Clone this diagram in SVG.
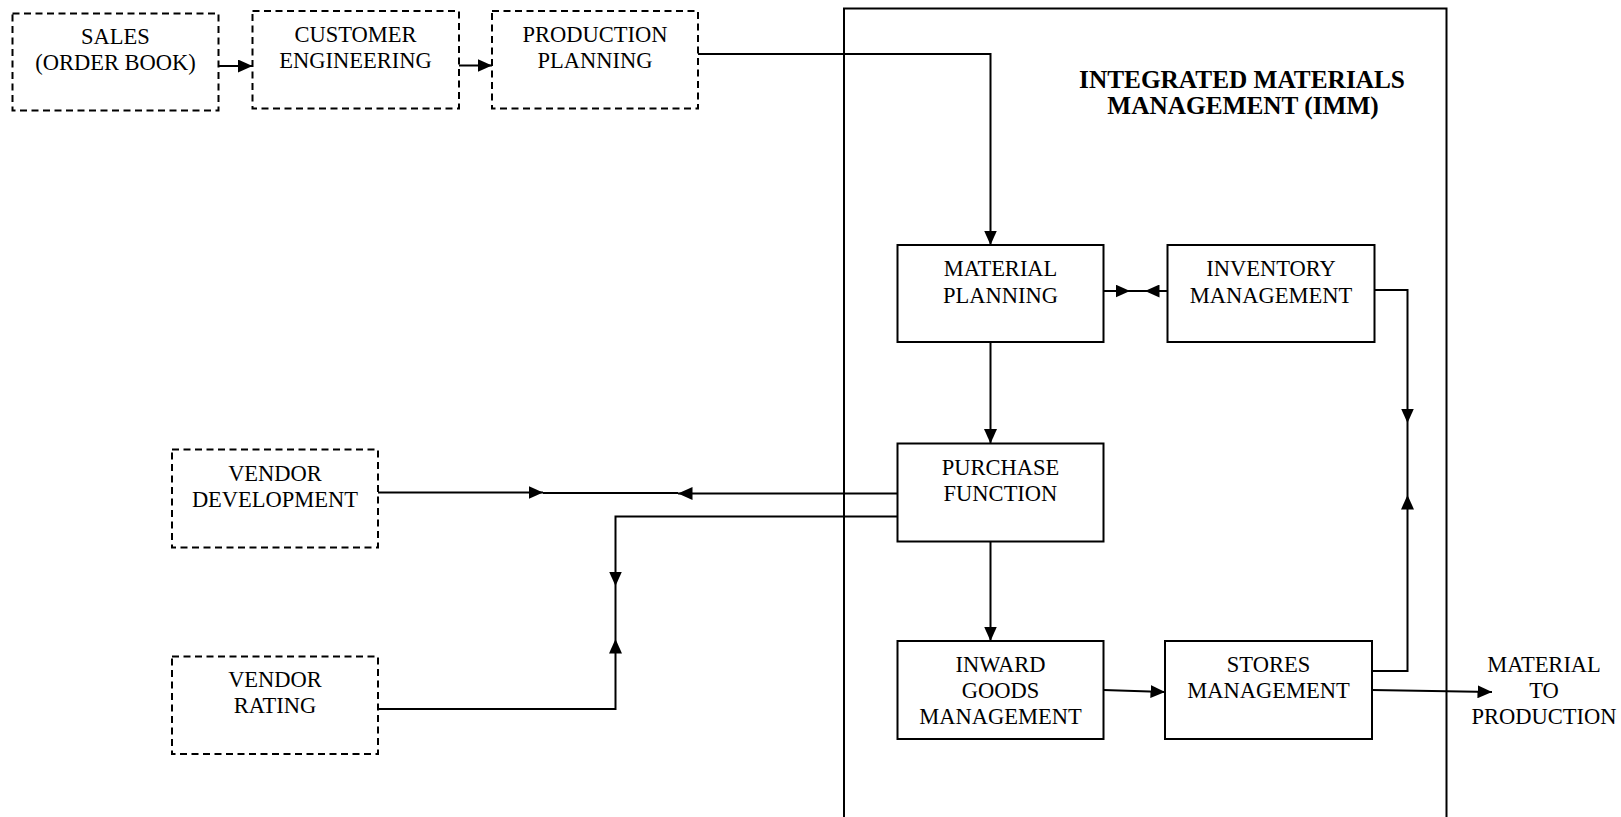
<svg xmlns="http://www.w3.org/2000/svg" width="1621" height="817" viewBox="0 0 1621 817">
<style>
  .box{fill:#fff;stroke:#000;stroke-width:2}
  .dbox{fill:#fff;stroke:#000;stroke-width:2;stroke-dasharray:7 4.5}
  .lbl{font-family:"Liberation Serif","Times New Roman",serif;font-size:22.5px;fill:#000;text-anchor:middle}
  .title{font-family:"Liberation Serif","Times New Roman",serif;font-size:25.3px;font-weight:bold;fill:#000;text-anchor:middle}
  .c{fill:none;stroke:#000;stroke-width:2}
  .ca{fill:none;stroke:#000;stroke-width:2;marker-end:url(#ah)}
</style>
<defs>
  <marker id="ah" markerUnits="userSpaceOnUse" markerWidth="15" markerHeight="13" refX="14.5" refY="6.5" orient="auto">
    <path d="M0,0 L14.5,6.5 L0,13 z" fill="#000"/>
  </marker>
</defs>
<rect width="1621" height="817" fill="#fff"/>

<g id="imm">
  <path d="M844,830 V8.5 H1446.5 V830" fill="none" stroke="#000" stroke-width="2"/>
  <text class="title" x="1242" y="87.5">INTEGRATED MATERIALS</text>
  <text class="title" x="1243" y="113.5">MANAGEMENT (IMM)</text>
</g>

<g id="connectors">
  <path class="ca" d="M218.5,66 H252.5"/>
  <path class="ca" d="M459,65.5 H492"/>
  <path class="ca" d="M698,54 H990.5 V245"/>
  <path class="ca" d="M1103.5,291 H1130"/>
  <path class="ca" d="M1167.5,291 H1145"/>
  <path class="c" d="M1130,291 H1145"/>
  <path class="ca" d="M990.5,342 V443.5"/>
  <path class="ca" d="M990.5,541.5 V641"/>
  <path class="ca" d="M1103.5,690 L1165,692"/>
  <path class="ca" d="M1372,690 L1492,692"/>
  <path class="ca" d="M1374,290 H1407.5 V423"/>
  <path class="ca" d="M1372,671 H1407.5 V495"/>
  <path class="c" d="M1407.5,423 V495"/>
  <path class="ca" d="M378,492.5 H543"/>
  <path class="ca" d="M897,493.5 H678"/>
  <path class="c" d="M543,493 H678"/>
  <path class="ca" d="M897,516.5 H615.5 V586"/>
  <path class="ca" d="M378,709 H615.5 V639"/>
  <path class="c" d="M615.5,586 V639"/>
</g>

<g id="sales">
  <rect class="dbox" x="12.5" y="13.5" width="206" height="97"/>
  <text class="lbl" x="115.5" y="43.5">SALES</text>
  <text class="lbl" x="115.5" y="70">(ORDER BOOK)</text>
</g>
<g id="customer-engineering">
  <rect class="dbox" x="252.5" y="11" width="206.5" height="97.5"/>
  <text class="lbl" x="355.5" y="41.5">CUSTOMER</text>
  <text class="lbl" x="355.5" y="68">ENGINEERING</text>
</g>
<g id="production-planning">
  <rect class="dbox" x="492" y="11" width="206" height="97.5"/>
  <text class="lbl" x="595" y="41.5">PRODUCTION</text>
  <text class="lbl" x="595" y="68">PLANNING</text>
</g>

<g id="material-planning">
  <rect class="box" x="897.5" y="245" width="206" height="97"/>
  <text class="lbl" x="1000.5" y="276">MATERIAL</text>
  <text class="lbl" x="1000.5" y="302.5">PLANNING</text>
</g>
<g id="inventory-management">
  <rect class="box" x="1167.5" y="245" width="207" height="97"/>
  <text class="lbl" x="1271" y="276">INVENTORY</text>
  <text class="lbl" x="1271" y="302.5">MANAGEMENT</text>
</g>
<g id="purchase-function">
  <rect class="box" x="897.5" y="443.5" width="206" height="98"/>
  <text class="lbl" x="1000.5" y="474.5">PURCHASE</text>
  <text class="lbl" x="1000.5" y="501">FUNCTION</text>
</g>
<g id="inward-goods-management">
  <rect class="box" x="897.5" y="641" width="206" height="98"/>
  <text class="lbl" x="1000.5" y="672">INWARD</text>
  <text class="lbl" x="1000.5" y="698">GOODS</text>
  <text class="lbl" x="1000.5" y="724">MANAGEMENT</text>
</g>
<g id="stores-management">
  <rect class="box" x="1165" y="641" width="207" height="98"/>
  <text class="lbl" x="1268.5" y="672">STORES</text>
  <text class="lbl" x="1268.5" y="698">MANAGEMENT</text>
</g>

<g id="vendor-development">
  <rect class="dbox" x="172" y="449.5" width="206" height="98"/>
  <text class="lbl" x="275" y="481">VENDOR</text>
  <text class="lbl" x="275" y="507">DEVELOPMENT</text>
</g>
<g id="vendor-rating">
  <rect class="dbox" x="172" y="656.5" width="206" height="97.5"/>
  <text class="lbl" x="275" y="687">VENDOR</text>
  <text class="lbl" x="275" y="713">RATING</text>
</g>

<g id="material-to-production">
  <text class="lbl" x="1544" y="672">MATERIAL</text>
  <text class="lbl" x="1544" y="698">TO</text>
  <text class="lbl" x="1544" y="724">PRODUCTION</text>
</g>
</svg>
